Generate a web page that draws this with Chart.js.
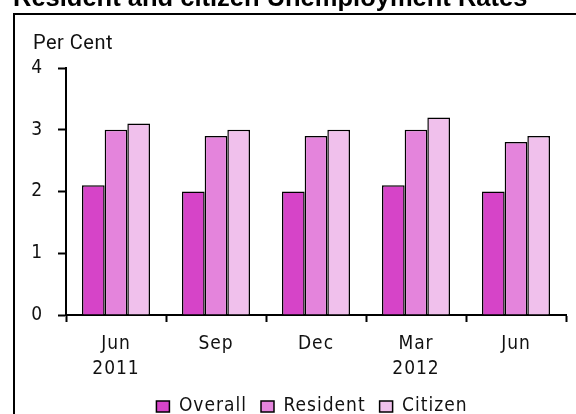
<!DOCTYPE html>
<html>
<head>
<meta charset="utf-8">
<script src="https://cdn.jsdelivr.net/npm/chart.js@4"></script>
<style>
  html, body { margin: 0; padding: 0; background: #fff; }
  #wrap { width: 576px; height: 414px; position: relative; }
</style>
</head>
<body>
<div id="wrap"><canvas id="chart_unemp"></canvas></div>
<script>
const categories = [['Jun', '2011'], 'Sep', 'Dec', ['Mar', '2012'], 'Jun'];
const overall = [2.1, 2.0, 2.0, 2.1, 2.0];
const resident = [3.0, 2.9, 2.9, 3.0, 2.8];
const citizen = [3.1, 3.0, 3.0, 3.2, 2.9];
const yTicks = [0, 1, 2, 3, 4];
const titleText = 'Resident and citizen Unemployment Rates';
const unitText = 'Per Cent';

const labelFamily = "'DejaVu Sans Condensed', 'DejaVu Sans'";

// frame, title and unit label
const framePlugin = {
	id: 'frame',
	beforeLayout(chart) { chart.ctx.letterSpacing = '1px'; },
	afterLayout(chart) {
		// legend sits a little right of the canvas centre
		chart.legend.left += 29;
		chart.legend.right += 29;
	},
	beforeDraw(chart) { chart.ctx.letterSpacing = '1px'; },
	afterDraw(chart) {
		const ctx = chart.ctx;
		ctx.save();
		ctx.letterSpacing = '0px';
		ctx.strokeStyle = '#000';
		ctx.lineWidth = 2;
		ctx.beginPath();
		ctx.moveTo(14, 414);
		ctx.lineTo(14, 14);
		ctx.lineTo(576, 14);
		ctx.stroke();
		ctx.fillStyle = '#000';
		ctx.textBaseline = 'alphabetic';
		ctx.font = "bold 25.5px 'Liberation Sans', Arial, sans-serif";
		ctx.fillText(titleText, 13, 6);
		ctx.fillStyle = '#111';
		ctx.letterSpacing = '0.5px';
		ctx.font = "20px Roboto, 'Liberation Sans', sans-serif";
		ctx.fillText(unitText, 33, 49);
		ctx.restore();
	}
};

const ctx = document.getElementById('chart_unemp').getContext('2d');
const config = {
	type: 'bar',
	data: {
		labels: categories,
		datasets: [{
			label: 'Overall',
			data: overall,
			backgroundColor: 'rgb(214, 68, 200)',
			borderColor: '#000',
			borderWidth: 1.5
		},
		{
			label: 'Resident',
			data: resident,
			backgroundColor: 'rgb(228, 132, 220)',
			borderColor: '#000',
			borderWidth: 1.5
		},
		{
			label: 'Citizen',
			data: citizen,
			backgroundColor: 'rgb(240, 192, 236)',
			borderColor: '#000',
			borderWidth: 1.5
		}]
	},
	options: {
		responsive: true,
		maintainAspectRatio: false,
		animation: false,
		categoryPercentage: 0.68,
		barPercentage: 1.0,
		layout: { padding: { top: 68, left: 0, right: 10, bottom: -12 } },
		plugins: {
			title: { display: false },
			tooltip: { enabled: false },
			legend: {
				position: 'bottom',
				labels: {
					color: '#111',
					font: { family: labelFamily, size: 19 },
					boxWidth: 13,
					boxHeight: 11,
					padding: 14
				}
			}
		},
		scales: {
			x: {
				grid: { drawOnChartArea: false, drawTicks: true, tickLength: 7, tickColor: '#000', tickWidth: 2 },
				border: { color: '#000', width: 2 },
				ticks: { color: '#111', font: { family: labelFamily, size: 19, lineHeight: 1.3 }, padding: 10, maxRotation: 0, autoSkip: false },
				afterFit(scale) { scale.height = 68; }
			},
			y: {
				min: yTicks[0],
				max: yTicks[yTicks.length - 1],
				grid: { drawOnChartArea: false, drawTicks: true, tickLength: 8, tickColor: '#000', tickWidth: 2 },
				border: { color: '#000', width: 2 },
				ticks: { stepSize: 1, color: '#111', font: { family: labelFamily, size: 19 }, padding: 15 },
				afterFit(scale) { scale.width = 66; }
			}
		}
	},
	plugins: [framePlugin]
};
const chart_unemp = new Chart(ctx, config);
</script>
</body>
</html>
